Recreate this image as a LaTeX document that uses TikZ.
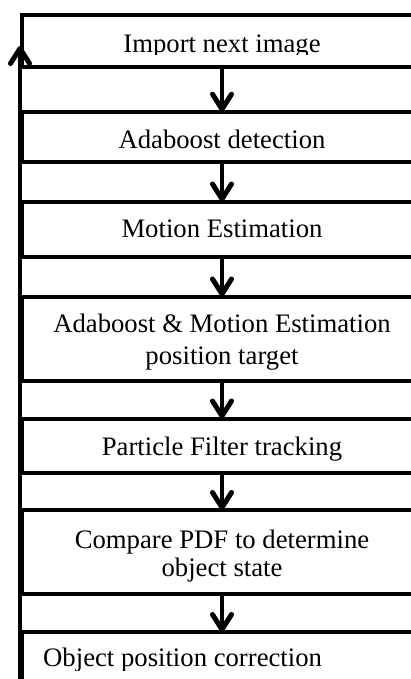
\documentclass[tikz,border=0pt]{standalone}
\usepackage{fontspec}
\setmainfont{Liberation Serif}
\usetikzlibrary{arrows.meta}
\begin{document}
\begin{tikzpicture}[x=1pt,y=-1pt,
  boxline/.style={draw=black,line width=4pt,minimum width=400pt,outer sep=0pt,inner sep=0pt},
  lbl/.style={anchor=base,inner sep=0pt,font=\fontsize{26.7}{32}\selectfont},
  arr/.style={line width=4pt,-{Straight Barb[length=15pt,width=19pt,line width=5pt,round]}}]
\useasboundingbox (0,0) rectangle (411,679);
\clip (0,0) rectangle (411,679);
% boxes
\node[boxline,minimum height=51.7pt] (b1) at (222,40.85) {};
\node[boxline,minimum height=50.8pt] (b2) at (222,137.1) {};
\node[boxline,minimum height=55.5pt] (b3) at (222,229.25) {};
\node[boxline,minimum height=84.5pt] (b4) at (222,338.75) {};
\node[boxline,minimum height=54.5pt] (b5) at (222,445.75) {};
\node[boxline,minimum height=83.5pt] (b6) at (222,551.75) {};
\node[boxline,minimum height=88pt] (b7) at (222,676) {};
% labels
\begin{scope}
\clip (20,15) rectangle (424,54.5);
\node[lbl] (t1) at (222,52.3) {Import next image};
\end{scope}
\node[lbl] (t2) at (222,149) {Adaboost detection};
\node[lbl] (t3) at (222,237.7) {Motion Estimation};
\node[lbl] (t4a) at (222,332.5) {Adaboost \& Motion Estimation};
\node[lbl] (t4b) at (222,364) {position target};
\node[lbl] (t5) at (222,455) {Particle Filter tracking};
\node[lbl] (t6a) at (222,548.3) {Compare PDF to determine};
\node[lbl] (t6b) at (222,576.7) {object state};
\begin{scope}
\clip (20,600) rectangle (424,670);
\node[lbl,anchor=base west] (t7) at (43,666.7) {Object position correction};
\end{scope}
% connectors
\draw[arr] (b1.south) -- (b2.north);
\draw[arr] (b2.south) -- (b3.north);
\draw[arr] (b3.south) -- (b4.north);
\draw[arr] (b4.south) -- (b5.north);
\draw[arr] (b5.south) -- (b6.north);
\draw[arr] (b6.south) -- (b7.north);
\coordinate (loopfrom) at (20,700);
\coordinate (loopto) at (20,46);
\draw[arr] (loopfrom) -- (loopto);
\end{tikzpicture}
\end{document}
